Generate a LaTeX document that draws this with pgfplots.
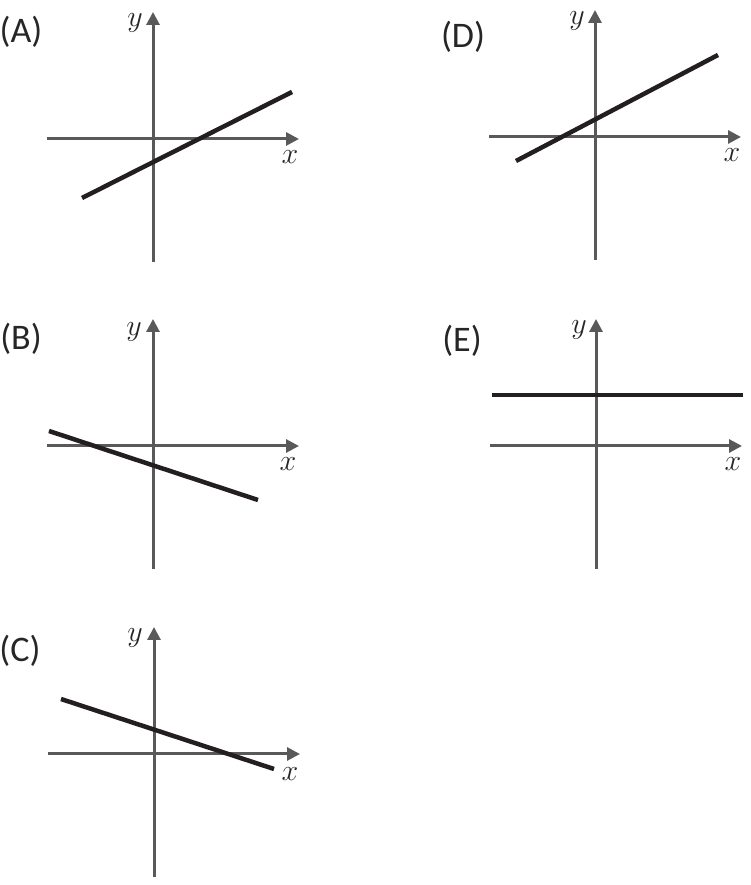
\RequirePackage{fix-cm}
\documentclass[border=0pt]{standalone}
\usepackage{fontspec}
\setmainfont{Carlito}
\usepackage{pgfplots}
\pgfplotsset{compat=1.18}
\usetikzlibrary{arrows.meta}

\definecolor{axisgray}{HTML}{595959}
\definecolor{linedark}{HTML}{231F20}
\definecolor{textdark}{HTML}{262626}

% one small coordinate sketch, 1 unit = 1pt = 1px of the reference
\pgfplotsset{
  panel/.style={
    axis lines=middle,
    x=1pt, y=1pt,
    xmin=-106, xmax=146,
    ymin=-123, ymax=127,
    xtick=\empty, ytick=\empty,
    anchor=south west,
    clip=false,
    axis line style={axisgray, line width=3pt,
      -{Triangle[length=13pt,width=13pt]}},
  },
}
\tikzset{
  graph/.style={linedark, line width=4.5pt, mark=none},
  lbl/.style={font=\fontsize{30}{34}\selectfont, text=textdark},
  tag/.style={font=\fontsize{36}{40}\selectfont, text=textdark},
}

\begin{document}
\begin{tikzpicture}
\path[use as bounding box] (0,0) rectangle (751pt,885pt);

% (A)
\begin{axis}[panel, at={(47pt,623pt)}]
\addplot[graph] coordinates {(-71,-59) (139,47)};
\node[lbl] at (axis cs:137,-18) {$x$};
\node[lbl] at (axis cs:-18,116) {$y$};
\node[tag] at (axis cs:-132,107) {(A)};
\end{axis}

% (D)
\begin{axis}[panel, at={(489pt,625pt)}]
\addplot[graph] coordinates {(-79,-24) (123,82)};
\node[lbl] at (axis cs:137,-18) {$x$};
\node[lbl] at (axis cs:-18,116) {$y$};
\node[tag] at (axis cs:-132,100) {(D)};
\end{axis}

% (B)
\begin{axis}[panel, at={(47pt,316pt)}]
\addplot[graph] coordinates {(-104,15) (105,-54)};
\node[lbl] at (axis cs:135,-18) {$x$};
\node[lbl] at (axis cs:-19,114) {$y$};
\node[tag] at (axis cs:-132,107) {(B)};
\end{axis}

% (E)
\begin{axis}[panel, at={(490pt,316pt)}]
\addplot[graph] coordinates {(-104,51) (147,51)};
\node[lbl] at (axis cs:137,-18) {$x$};
\node[lbl] at (axis cs:-17,116) {$y$};
\node[tag] at (axis cs:-134,105) {(E)};
\end{axis}

% (C)
\begin{axis}[panel, at={(48pt,8pt)}]
\addplot[graph] coordinates {(-93,55) (120,-15)};
\node[lbl] at (axis cs:136,-20) {$x$};
\node[lbl] at (axis cs:-19,116) {$y$};
\node[tag] at (axis cs:-134,103) {(C)};
\end{axis}

\end{tikzpicture}
\end{document}
